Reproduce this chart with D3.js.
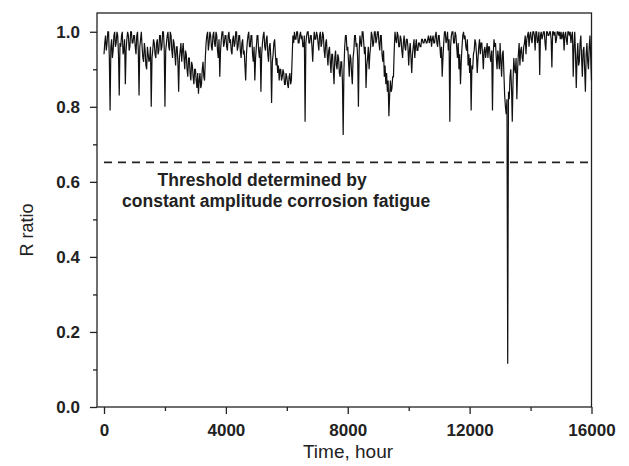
<!DOCTYPE html>
<html>
<head>
<meta charset="utf-8">
<script src="https://cdn.jsdelivr.net/npm/d3@7"></script>
<style>
    body { margin: 0; background: #fff; }
    svg { display: block; font-family: "Liberation Sans", Arial, sans-serif; }
</style>
</head>
<body>
<svg id="chart" width="629" height="466"></svg>
<script>
// R ratio, one value every 25 hours from 0 to 16000 h (one row per 1000 h)
const sampleStep = 25;
const rRatio = [
    0.94, 0.97, 0.99, 0.95, 0.97, 1.0, 1.0, 0.93, 0.79, 0.96, 0.98, 0.93, 0.95, 0.99, 1.0, 0.96, 0.97, 1.0, 0.99, 0.94, 0.83, 0.97, 0.96, 0.99, 1.0, 0.94, 0.95, 0.98, 0.86, 0.95, 0.98, 1.0, 0.99, 0.95, 0.96, 1.0, 1.0, 0.97, 0.97, 0.99,
    0.99, 0.96, 0.94, 0.99, 1.0, 0.95, 0.83, 0.96, 0.98, 1.0, 0.96, 0.93, 0.92, 0.97, 0.95, 0.91, 0.90, 0.96, 0.94, 0.92, 0.93, 0.96, 0.80, 0.93, 0.95, 0.98, 0.97, 0.94, 0.93, 0.97, 0.98, 0.94, 0.95, 0.99, 0.99, 0.95, 0.96, 1.0, 1.0, 0.96,
    0.80, 0.95, 0.97, 0.99, 1.0, 0.96, 0.95, 1.0, 0.99, 0.95, 0.93, 0.98, 0.97, 0.94, 0.91, 0.96, 0.96, 0.92, 0.84, 0.93, 0.95, 0.97, 0.92, 0.95, 0.97, 0.93, 0.90, 0.95, 0.94, 0.90, 0.88, 0.93, 0.93, 0.89, 0.87, 0.92, 0.91, 0.88, 0.86, 0.90,
    0.90, 0.87, 0.85, 0.89, 0.835, 0.87, 0.89, 0.85, 0.86, 0.90, 0.92, 0.88, 0.87, 0.93, 0.97, 0.99, 1.0, 0.95, 0.97, 1.0, 0.99, 0.96, 0.95, 0.99, 1.0, 0.97, 0.96, 1.0, 0.99, 0.95, 0.93, 0.98, 0.88, 0.95, 0.98, 1.0, 1.0, 0.96, 0.97, 0.99,
    0.99, 0.96, 0.95, 0.99, 1.0, 0.97, 0.98, 0.95, 0.94, 0.98, 0.99, 0.96, 0.97, 1.0, 1.0, 0.95, 0.96, 0.99, 0.99, 0.95, 0.93, 0.97, 0.98, 0.94, 0.95, 0.91, 0.87, 0.94, 0.97, 0.99, 1.0, 0.96, 0.96, 0.99, 0.99, 0.94, 0.92, 0.96, 0.87, 0.93,
    0.96, 0.99, 0.99, 0.95, 0.93, 0.96, 0.84, 0.94, 0.97, 0.99, 1.0, 0.96, 0.95, 0.98, 0.99, 0.94, 0.92, 0.96, 0.97, 0.93, 0.81, 0.92, 0.94, 0.97, 0.98, 0.94, 0.91, 0.93, 0.89, 0.91, 0.87, 0.90, 0.90, 0.87, 0.88, 0.90, 0.89, 0.86, 0.86, 0.89,
    0.88, 0.86, 0.85, 0.88, 0.89, 0.86, 0.87, 0.93, 0.99, 0.97, 1.0, 0.98, 0.98, 1.0, 1.0, 0.97, 0.97, 0.99, 1.0, 0.98, 0.99, 0.96, 0.96, 0.99, 0.76, 0.97, 0.99, 1.0, 1.0, 0.97, 0.97, 0.99, 0.99, 0.96, 0.92, 0.97, 1.0, 0.98, 0.98, 1.0,
    0.99, 0.97, 0.95, 0.99, 1.0, 0.96, 0.97, 1.0, 0.99, 0.95, 0.93, 0.97, 0.98, 0.94, 0.91, 0.95, 0.96, 0.92, 0.89, 0.94, 0.94, 0.90, 0.86, 0.93, 0.95, 0.91, 0.90, 0.94, 0.93, 0.89, 0.88, 0.92, 0.92, 0.87, 0.725, 0.90, 0.96, 0.99, 0.99, 0.95,
    0.96, 0.92, 0.88, 0.94, 0.93, 0.89, 0.86, 0.93, 0.95, 0.99, 0.99, 0.96, 0.97, 0.93, 0.80, 0.95, 0.99, 0.97, 0.96, 1.0, 1.0, 0.97, 0.94, 0.96, 0.85, 0.91, 0.93, 0.96, 0.90, 0.94, 0.96, 1.0, 0.99, 0.96, 0.97, 1.0, 1.0, 0.97, 0.98, 1.0,
    1.0, 0.97, 0.95, 0.99, 0.99, 0.94, 0.92, 0.95, 0.88, 0.91, 0.86, 0.89, 0.84, 0.87, 0.775, 0.83, 0.87, 0.84, 0.85, 0.88, 0.88, 0.95, 1.0, 0.98, 0.97, 1.0, 0.99, 0.96, 0.96, 0.99, 0.98, 0.95, 0.93, 0.97, 0.99, 0.96, 0.95, 0.98, 0.98, 0.96,
    0.91, 0.95, 0.97, 0.93, 0.89, 0.94, 0.96, 0.98, 0.93, 0.96, 0.98, 0.95, 0.95, 0.97, 0.97, 0.96, 0.96, 0.98, 0.98, 0.97, 0.97, 0.98, 0.98, 0.97, 0.97, 0.98, 0.99, 0.97, 0.98, 0.99, 0.96, 0.98, 0.99, 0.97, 0.97, 0.99, 1.0, 0.97, 0.96, 0.99,
    0.99, 0.96, 0.93, 0.96, 0.88, 0.93, 0.97, 1.0, 1.0, 0.97, 0.98, 1.0, 0.95, 0.98, 0.76, 0.96, 0.99, 1.0, 1.0, 0.97, 0.97, 1.0, 0.99, 0.96, 0.93, 0.97, 0.90, 0.94, 0.86, 0.92, 0.96, 0.99, 1.0, 0.98, 0.99, 0.96, 0.95, 0.98, 0.91, 0.94,
    0.89, 0.93, 0.79, 0.91, 0.90, 0.94, 0.95, 0.98, 0.97, 0.94, 0.89, 0.93, 0.96, 0.98, 0.94, 0.97, 0.97, 0.94, 0.90, 0.95, 0.96, 0.93, 0.95, 0.97, 0.93, 0.96, 0.96, 0.93, 0.92, 0.95, 0.79, 0.94, 0.98, 0.96, 0.97, 0.93, 0.90, 0.95, 0.93, 0.90,
    0.97, 0.92, 0.88, 0.94, 0.95, 0.89, 0.83, 0.80, 0.78, 0.82, 0.115, 0.84, 0.82, 0.88, 0.90, 0.85, 0.76, 0.87, 0.93, 0.90, 0.89, 0.93, 0.82, 0.90, 0.94, 0.97, 0.91, 0.95, 0.96, 0.93, 0.92, 0.96, 0.97, 0.99, 0.94, 0.98, 0.99, 1.0, 0.96, 0.99,
    1.0, 0.98, 0.97, 1.0, 1.0, 0.99, 0.95, 1.0, 1.0, 0.97, 0.98, 1.0, 0.885, 0.99, 1.0, 0.98, 0.99, 1.0, 1.0, 0.97, 0.95, 1.0, 1.0, 0.99, 0.99, 1.0, 1.0, 0.98, 0.905, 1.0, 1.0, 0.99, 1.0, 0.97, 0.98, 1.0, 1.0, 0.99, 1.0, 0.98,
    1.0, 0.98, 0.99, 1.0, 0.95, 0.99, 1.0, 0.98, 0.965, 1.0, 1.0, 0.99, 1.0, 0.97, 0.99, 1.0, 0.88, 0.96, 1.0, 0.94, 0.85, 0.93, 0.97, 0.91, 0.92, 0.97, 0.99, 0.93, 0.88, 0.95, 0.96, 0.90, 0.84, 0.94, 0.97, 0.92, 0.90, 0.96, 0.99, 0.93,
    0.87
];

const threshold = 0.652;
const thresholdLabel = ['Threshold determined by', 'constant amplitude corrosion fatigue'];
const labelCentres = [5190, 5650];

const xTicks = [0, 4000, 8000, 12000, 16000];
const xMinorTicks = [2000, 6000, 10000, 14000];
const yTicks = [0, 0.2, 0.4, 0.6, 0.8, 1.0];
const yMinorTicks = [0.1, 0.3, 0.5, 0.7, 0.9];

const margin = { top: 13, right: 37.5, bottom: 59, left: 97 };
const width = 629 - margin.left - margin.right;
const height = 466 - margin.top - margin.bottom;

const svg = d3.select('#chart');
const g = svg.append('g').attr('transform', `translate(${margin.left},${margin.top})`);

const xScale = d3.scaleLinear().domain([-230, 16000]).range([0, width]);
const yScale = d3.scaleLinear().domain([0, 1.05]).range([height, 0]);

const data = rRatio.map((r, i) => ({ hour: i * sampleStep, r }));

// frame
g.append('rect')
    .attr('width', width)
    .attr('height', height)
    .attr('fill', 'none')
    .attr('stroke', '#222')
    .attr('stroke-width', 1.3);

// axes
g.append('g')
    .attr('transform', `translate(0,${height})`)
    .call(d3.axisBottom(xScale).tickValues(xTicks).tickSize(7).tickPadding(10).tickFormat(d3.format('d')));
g.append('g')
    .attr('transform', `translate(0,${height})`)
    .call(d3.axisBottom(xScale).tickValues(xMinorTicks).tickSize(4).tickFormat(''));

g.append('g')
    .call(d3.axisLeft(yScale).tickValues(yTicks).tickSize(7).tickPadding(10).tickFormat(d3.format('.1f')));
g.append('g')
    .call(d3.axisLeft(yScale).tickValues(yMinorTicks).tickSize(4).tickFormat(''));

g.selectAll('.domain').remove();
g.selectAll('.tick line').attr('stroke', '#222').attr('stroke-width', 1.3);
g.selectAll('.tick text')
    .attr('fill', '#222')
    .style('font-size', '17px')
    .style('font-weight', 'bold')
    .style('font-family', '"Liberation Sans", Arial, sans-serif');

// threshold
g.append('line')
    .attr('x1', xScale(0))
    .attr('x2', xScale(16000))
    .attr('y1', yScale(threshold))
    .attr('y2', yScale(threshold))
    .attr('stroke', '#222')
    .attr('stroke-width', 1.8)
    .attr('stroke-dasharray', '8,6');

g.append('g')
    .selectAll('text')
    .data(thresholdLabel)
    .join('text')
    .attr('x', (d, i) => xScale(labelCentres[i]))
    .attr('y', (d, i) => yScale(threshold) + 24 + i * 21)
    .attr('text-anchor', 'middle')
    .attr('fill', '#222')
    .style('font-size', '17.5px')
    .style('font-weight', 'bold')
    .text(d => d);

// R ratio record
const line = d3.line()
    .x(d => xScale(d.hour))
    .y(d => yScale(d.r));

g.append('path')
    .datum(data)
    .attr('d', line)
    .attr('fill', 'none')
    .attr('stroke', '#111')
    .attr('stroke-width', 1.2);

// axis titles
svg.append('text')
    .attr('x', 348)
    .attr('y', 458)
    .attr('text-anchor', 'middle')
    .attr('fill', '#222')
    .style('font-size', '19px')
    .text('Time, hour');

svg.append('text')
    .attr('transform', 'translate(33,230) rotate(-90)')
    .attr('text-anchor', 'middle')
    .attr('fill', '#222')
    .style('font-size', '18px')
    .text('R ratio');
</script>
</body>
</html>
